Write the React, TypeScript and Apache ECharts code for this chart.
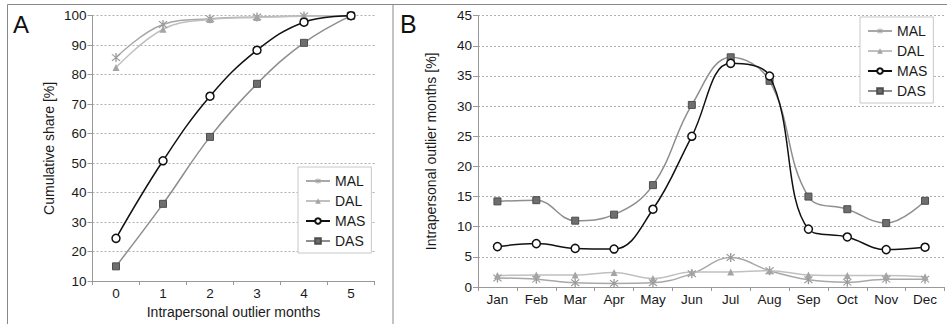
import React, { useEffect, useRef } from "react";
import * as echarts from "echarts";

const catsA = ["0", "1", "2", "3", "4", "5"];
const malA = [85.8, 97.0, 99.0, 99.6, 99.9, 100];
const dalA = [82.4, 95.4, 98.7, 99.4, 99.8, 100];
const masA = [24.5, 50.8, 72.7, 88.3, 97.8, 100];
const dasA = [15.0, 36.2, 58.9, 76.9, 90.8, 100];

const months = ["Jan", "Feb", "Mar", "Apr", "May", "Jun", "Jul", "Aug", "Sep", "Oct", "Nov", "Dec"];
const malB = [1.5, 1.3, 0.7, 0.6, 0.7, 2.2, 4.9, 2.7, 1.2, 0.8, 1.3, 1.3];
const dalB = [1.9, 2.0, 2.0, 2.4, 1.4, 2.5, 2.5, 2.7, 2.0, 1.9, 1.9, 1.7];
const masB = [6.7, 7.2, 6.4, 6.3, 12.9, 25.0, 37.1, 35.0, 9.6, 8.3, 6.2, 6.6];
const dasB = [14.2, 14.4, 11.0, 12.0, 16.9, 30.2, 38.1, 34.2, 15.0, 12.9, 10.6, 14.3];

const seriesNames = ["MAL", "DAL", "MAS", "DAS"];

const FONT = "'Liberation Sans', Arial, sans-serif";
const TXT = "#1a1a1a";

const STAR =
  "path://M4.4,0 L5.6,0 L5.6,10 L4.4,10 Z M0.9,1.7 L1.7,0.9 L9.1,8.3 L8.3,9.1 Z M8.3,0.9 L9.1,1.7 L1.7,9.1 L0.9,8.3 Z";

function makeSeries(idx: number, data: number[][]) {
  const [mal, dal, mas, das] = data as any;
  return [
    {
      name: "MAL", type: "line", xAxisIndex: idx, yAxisIndex: idx, data: mal, smooth: 0.4,
      symbol: STAR, symbolSize: 9,
      lineStyle: { color: "#a8a8a8", width: 1.5 },
      itemStyle: { color: "#9a9a9a" },
      z: 2,
    },
    {
      name: "DAL", type: "line", xAxisIndex: idx, yAxisIndex: idx, data: dal, smooth: 0.4,
      symbol: "triangle", symbolSize: 7,
      lineStyle: { color: "#c0c0c0", width: 1.5 },
      itemStyle: { color: "#a4a4a4" },
      z: 2,
    },
    {
      name: "MAS", type: "line", xAxisIndex: idx, yAxisIndex: idx, data: mas, smooth: 0.4,
      symbol: "circle", symbolSize: 8,
      lineStyle: { color: "#111", width: 1.5 },
      itemStyle: { color: "#fff", borderColor: "#111", borderWidth: 1.5 },
      z: 4,
    },
    {
      name: "DAS", type: "line", xAxisIndex: idx, yAxisIndex: idx, data: das, smooth: 0.4,
      symbol: "rect", symbolSize: 7,
      lineStyle: { color: "#8e8e8e", width: 1.5 },
      itemStyle: { color: "#6e6e6e", borderColor: "#4e4e4e", borderWidth: 1 },
      z: 3,
    },
  ];
}

function legendAt(left: number, top: number) {
  return {
    data: seriesNames,
    orient: "vertical",
    left,
    top,
    itemWidth: 24,
    itemHeight: 7,
    itemGap: 6,
    padding: [7, 6, 5, 7],
    borderColor: "#c8c8c8",
    borderWidth: 1,
    backgroundColor: "#fff",
    textStyle: { fontSize: 14, color: TXT, fontFamily: FONT, lineHeight: 14 },
    selectedMode: false,
  };
}

const axisLineStyle = { lineStyle: { color: "#999", width: 1 } };

export default function App() {
  const ref = useRef<HTMLDivElement>(null);
  useEffect(() => {
    if (!ref.current) return;
    const chart = echarts.init(ref.current, undefined, { renderer: "svg" });
    const option: any = {
      animation: false,
      backgroundColor: "#fff",
      textStyle: { fontFamily: FONT },
      grid: [
        { left: 92.5, top: 15.7, width: 282, height: 271.3 },
        { left: 478, top: 15.7, width: 466.5, height: 271.3 },
      ],
      xAxis: [
        {
          type: "category", gridIndex: 0, data: catsA, boundaryGap: true,
          axisLine: axisLineStyle,
          axisTick: { show: true, length: 4, lineStyle: { color: "#999" } },
          axisLabel: { fontSize: 13.5, color: TXT, margin: 5, fontFamily: FONT },
          name: "Intrapersonal outlier months", nameLocation: "middle", nameGap: 19,
          nameTextStyle: { fontSize: 14, color: TXT, fontFamily: FONT },
        },
        {
          type: "category", gridIndex: 1, data: months, boundaryGap: true,
          axisLine: axisLineStyle,
          axisTick: { show: true, length: 4, lineStyle: { color: "#999" } },
          axisLabel: { fontSize: 13.5, color: TXT, margin: 5, fontFamily: FONT },
        },
      ],
      yAxis: [
        {
          type: "value", gridIndex: 0, min: 10, max: 100, interval: 10,
          axisLine: { show: true, ...axisLineStyle },
          axisTick: { show: true, length: 5, lineStyle: { color: "#999" } },
          axisLabel: { fontSize: 13.5, color: TXT, margin: 6, fontFamily: FONT },
          splitLine: { show: true, lineStyle: { color: "#b0b0b0", type: [2, 2], width: 1 } },
          name: "Cumulative share [%]", nameLocation: "middle", nameGap: 37,
          nameTextStyle: { fontSize: 14, color: TXT, fontFamily: FONT },
        },
        {
          type: "value", gridIndex: 1, min: 0, max: 45, interval: 5,
          axisLine: { show: true, ...axisLineStyle },
          axisTick: { show: true, length: 5, lineStyle: { color: "#999" } },
          axisLabel: { fontSize: 13.5, color: TXT, margin: 6, fontFamily: FONT },
          splitLine: { show: true, lineStyle: { color: "#b0b0b0", type: [2, 2], width: 1 } },
          name: "Intrapersonal outlier months [%]", nameLocation: "middle", nameGap: 40,
          nameTextStyle: { fontSize: 14, color: TXT, fontFamily: FONT },
        },
      ],
      legend: [legendAt(298, 167), legendAt(860, 17)],
      series: [
        ...makeSeries(0, [malA, dalA, masA, dasA]),
        ...makeSeries(1, [malB, dalB, masB, dasB]),
      ],
      graphic: [
        { type: "line", shape: { x1: 7.5, y1: 4.5, x2: 947, y2: 4.5 }, style: { stroke: "#888", lineWidth: 1 }, z: 10 },
        { type: "line", shape: { x1: 7.5, y1: 4.5, x2: 7.5, y2: 324 }, style: { stroke: "#888", lineWidth: 1 }, z: 10 },
        { type: "line", shape: { x1: 393, y1: 4.5, x2: 393, y2: 324 }, style: { stroke: "#888", lineWidth: 1 }, z: 10 },
        { type: "text", left: 13, top: 12, style: { text: "A", fontSize: 24, fill: "#111", fontFamily: FONT }, z: 10 },
        { type: "text", left: 400, top: 11, style: { text: "B", fontSize: 25, fill: "#111", fontFamily: FONT }, z: 10 },
      ],
    };
    chart.setOption(option);
    return () => chart.dispose();
  }, []);
  return (
    <div
      ref={ref}
      style={{ position: "fixed", left: 0, top: 0, width: 947, height: 324, background: "#fff" }}
    />
  );
}
